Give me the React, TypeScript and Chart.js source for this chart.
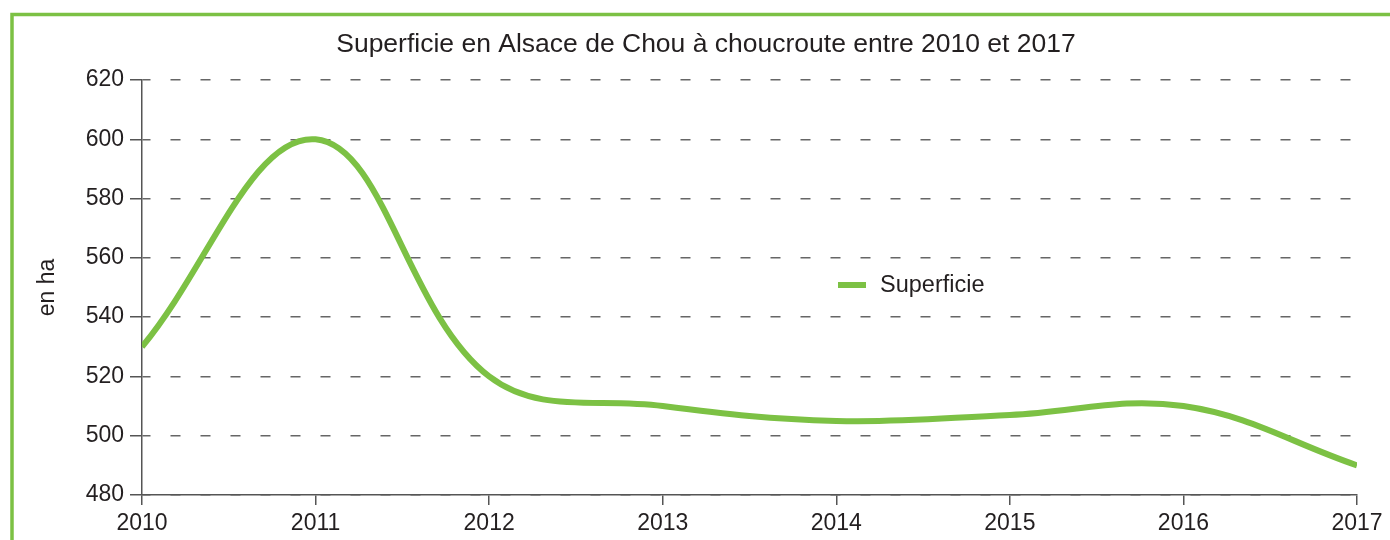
import React, { useEffect, useRef } from "react";
import { Chart, registerables } from "chart.js";

Chart.register(...registerables);

const years = [2010, 2011, 2012, 2013, 2014, 2015, 2016, 2017];
const superficie = [530, 600, 520, 510, 505, 507, 510, 490];
const yTicks = [480, 500, 520, 540, 560, 580, 600, 620];
const titleText = "Superficie en Alsace de Chou à choucroute entre 2010 et 2017";
const seriesLabel = "Superficie";
const yTitle = "en ha";

const GREEN = "#7cc144";
const TEXT = "#231f20";
const FONT = "'Liberation Sans', Arial, sans-serif";

const framePlugin = {
  id: "frame",
  beforeDraw(chart: any) {
    const ctx = chart.ctx;
    ctx.save();
    ctx.fillStyle = "#ffffff";
    ctx.fillRect(0, 0, chart.width, chart.height);
    ctx.strokeStyle = GREEN;
    ctx.lineWidth = 3.5;
    ctx.strokeRect(12, 14.5, 3000, 3000);
    ctx.restore();
  },
  afterDraw(chart: any) {
    const ctx = chart.ctx;
    ctx.save();
    ctx.fillStyle = TEXT;
    ctx.font = `26.5px ${FONT}`;
    ctx.textAlign = "center";
    ctx.textBaseline = "middle";
    ctx.fillText(titleText, 706, 45);
    // legend
    const ds = chart.data.datasets[0];
    ctx.fillStyle = ds.borderColor;
    ctx.fillRect(838, 282, 28, 6);
    ctx.fillStyle = TEXT;
    ctx.textAlign = "left";
    ctx.font = `23.5px ${FONT}`;
    ctx.fillText(ds.label, 880, 286);
    ctx.restore();
  },
};

export default function App() {
  const ref = useRef<HTMLCanvasElement | null>(null);
  useEffect(() => {
    document.body.style.margin = "0";
    const canvas = ref.current!;
    const chart = new Chart(canvas, {
      type: "line",
      data: {
        datasets: [
          {
            label: seriesLabel,
            data: years.map((y, i) => ({ x: y, y: superficie[i] })),
            borderColor: GREEN,
            borderWidth: 6,
            pointRadius: 0,
            tension: 0.38,
            fill: false,
          },
        ],
      },
      options: {
        animation: false,
        responsive: false,
        maintainAspectRatio: false,
        layout: { padding: { top: 80, right: 33, left: 0, bottom: 0 } },
        plugins: {
          legend: { display: false },
          title: { display: false },
          tooltip: { enabled: false },
        },
        scales: {
          x: {
            type: "linear",
            min: 2010,
            max: 2017,
            afterBuildTicks: (s: any) => {
              s.ticks = years.map((v) => ({ value: v }));
            },
            afterFit: (s: any) => {
              s.height = 45;
            },
            ticks: {
              callback: (v: any) => String(v),
              color: TEXT,
              font: { family: FONT, size: 23 },
              padding: 5,
              maxRotation: 0,
              autoSkip: false,
            },
            grid: {
              drawOnChartArea: false,
              drawTicks: true,
              tickLength: 10,
              color: "#555",
              lineWidth: 1.5,
            },
            border: { color: "#555", width: 1.5 },
          },
          y: {
            min: 480,
            max: 620,
            afterBuildTicks: (s: any) => {
              s.ticks = yTicks.map((v) => ({ value: v }));
            },
            afterFit: (s: any) => {
              s.width = 142;
            },
            ticks: {
              color: TEXT,
              font: { family: FONT, size: 23 },
              padding: 6,
            },
            grid: {
              color: "#666",
              lineWidth: 1.5,
              tickLength: 12,
              tickColor: "#555",
              tickBorderDash: [],
              tickWidth: 1.5,
            },
            border: { color: "#555", width: 1.5, dash: [10, 20], dashOffset: 2 },
            title: {
              display: true,
              text: yTitle,
              color: TEXT,
              font: { family: FONT, size: 23 },
              padding: { top: 34, bottom: 0 },
            },
          },
        },
      },
      plugins: [framePlugin],
    });
    return () => chart.destroy();
  }, []);
  return <canvas ref={ref} width={1390} height={540} style={{ display: "block" }} />;
}
